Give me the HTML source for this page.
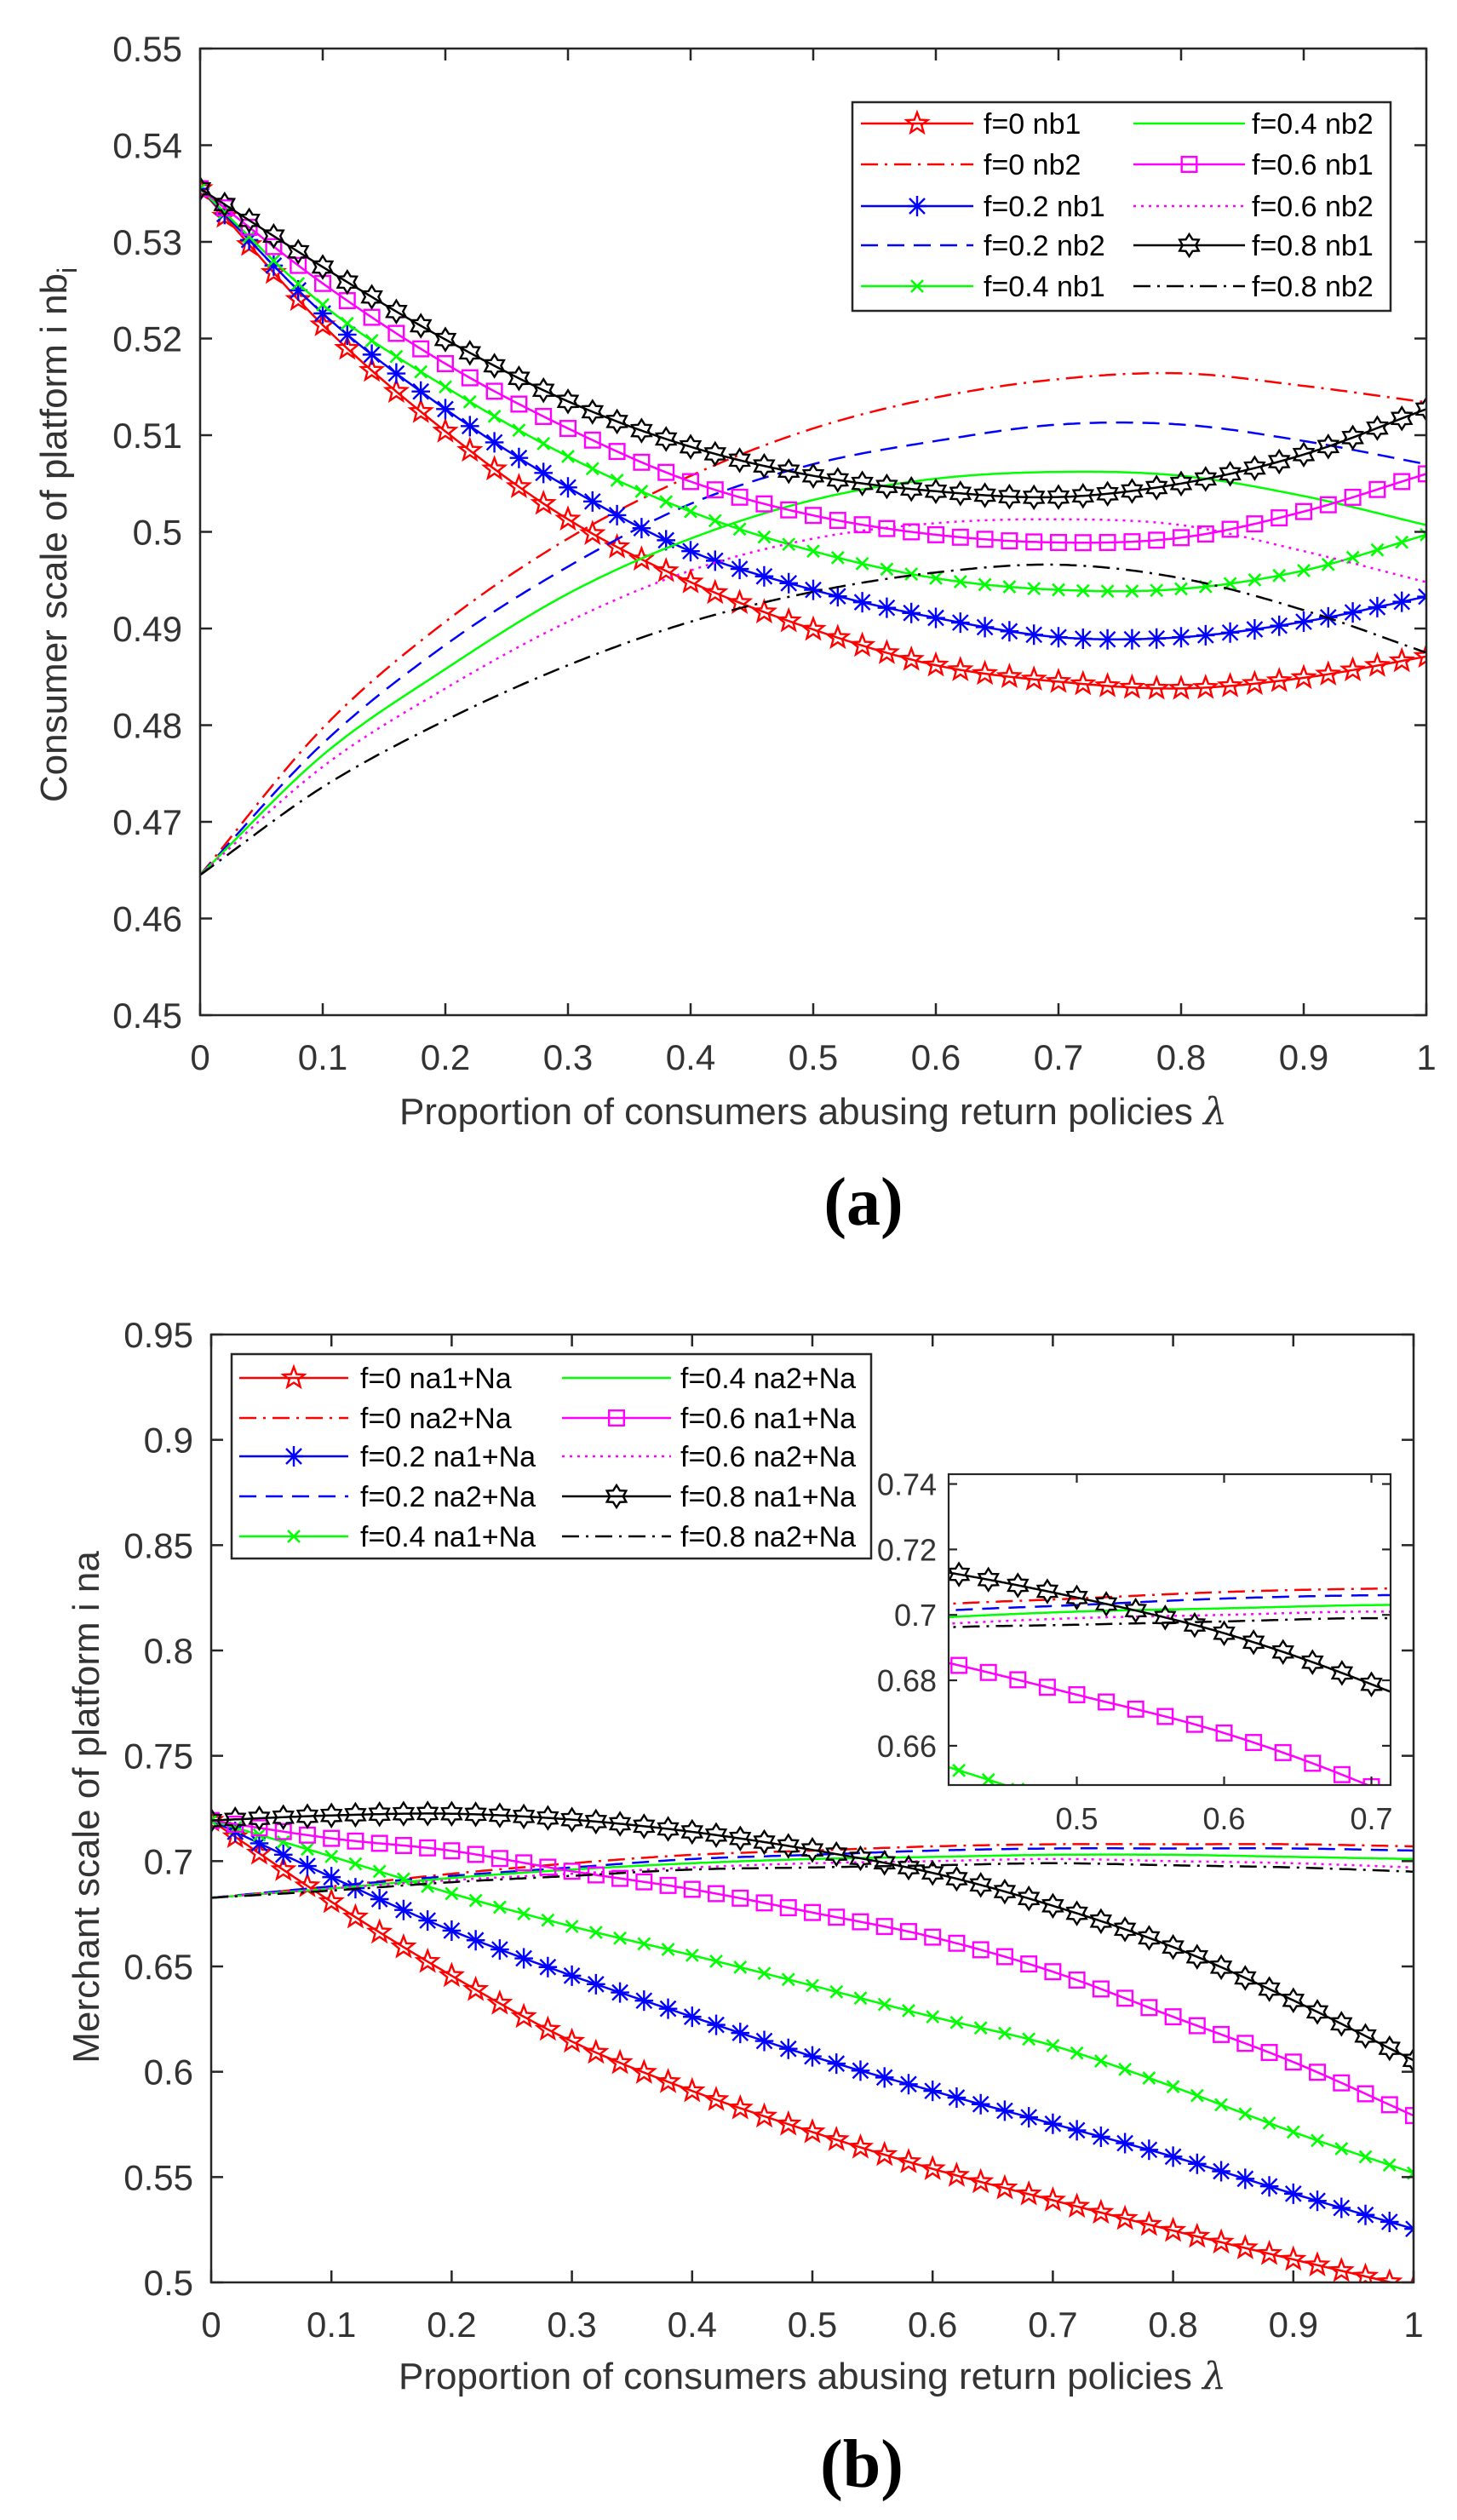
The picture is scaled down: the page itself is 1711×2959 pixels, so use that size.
<!DOCTYPE html>
<html><head><meta charset="utf-8"><title>Consumer and merchant scale charts</title>
<style>
html,body{margin:0;padding:0;background:#fff;}
svg{display:block;font-family:"Liberation Sans",Arial,sans-serif;}
</style></head>
<body>
<svg id="fig" width="1711" height="2959" viewBox="0 0 1711 2959" xmlns="http://www.w3.org/2000/svg">
<rect x="0" y="0" width="1711" height="2959" fill="#fff"/>
</svg>
<script>
// ---------- Chart (a) data ----------
const xsA = [0,0.1,0.2,0.3,0.4,0.5,0.6,0.7,0.8,0.9,1.0];
const aF0nb1   = [0.5355,0.5214,0.5104,0.5013,0.4948,0.4899,0.4862,0.4845,0.4838,0.4849,0.4871];
const aF0nb2   = [0.4645,0.4797,0.4907,0.4993,0.5058,0.5107,0.5139,0.5158,0.5164,0.5151,0.5134];
const aF02nb1  = [0.5355,0.5226,0.5127,0.5046,0.4980,0.4940,0.4911,0.4891,0.4891,0.4907,0.4933];
const aF02nb2  = [0.4645,0.4781,0.4883,0.4964,0.5029,0.5070,0.5094,0.5111,0.5111,0.5094,0.5070];
const aF04nb1  = [0.5355,0.5235,0.5150,0.5078,0.5021,0.4980,0.4952,0.4940,0.4941,0.4960,0.4997];
const aF04nb2  = [0.4645,0.4769,0.4858,0.4936,0.4993,0.5033,0.5055,0.5062,0.5058,0.5037,0.5007];
const aF06nb1  = [0.5355,0.5257,0.5174,0.5107,0.5052,0.5017,0.4997,0.4989,0.4994,0.5021,0.5060];
const aF06nb2  = [0.4645,0.4757,0.4838,0.4907,0.4960,0.4993,0.5009,0.5013,0.5007,0.4980,0.4948];
const aF08nb1  = [0.5355,0.5274,0.5199,0.5135,0.5088,0.5058,0.5042,0.5036,0.5050,0.5080,0.5127];
const aF08nb2  = [0.4645,0.4736,0.4805,0.4862,0.4907,0.4938,0.4958,0.4966,0.4952,0.4919,0.4875];
const aXTicks = [0,0.1,0.2,0.3,0.4,0.5,0.6,0.7,0.8,0.9,1];
const aXTickLabels = ["0","0.1","0.2","0.3","0.4","0.5","0.6","0.7","0.8","0.9","1"];
const aYTicks = [0.45,0.46,0.47,0.48,0.49,0.5,0.51,0.52,0.53,0.54,0.55];
const aYTickLabels = ["0.45","0.46","0.47","0.48","0.49","0.5","0.51","0.52","0.53","0.54","0.55"];
const aLabels = ["f=0 nb1","f=0 nb2","f=0.2 nb1","f=0.2 nb2","f=0.4 nb1","f=0.4 nb2","f=0.6 nb1","f=0.6 nb2","f=0.8 nb1","f=0.8 nb2"];

// ---------- Chart (b) data ----------
const xsB = [0,0.1,0.2,0.3,0.4,0.5,0.6,0.7,0.8,0.9,1.0];
const bF0na1   = [0.7193,0.6807,0.6456,0.6144,0.5909,0.5714,0.5539,0.5390,0.5246,0.5109,0.4975];
const bF0na2   = [0.6826,0.6880,0.6940,0.6990,0.7030,0.7050,0.7070,0.7080,0.7080,0.7080,0.7070];
const bF02na1  = [0.7193,0.6924,0.6670,0.6456,0.6261,0.6073,0.5909,0.5753,0.5597,0.5421,0.5254];
const bF02na2  = [0.6826,0.6880,0.6930,0.6970,0.7010,0.7030,0.7050,0.7060,0.7060,0.7060,0.7050];
const bF04na1  = [0.7193,0.7022,0.6846,0.6690,0.6553,0.6409,0.6261,0.6124,0.5929,0.5714,0.5519];
const bF04na2  = [0.6826,0.6870,0.6920,0.6960,0.6990,0.7010,0.7020,0.7030,0.7030,0.7020,0.7010];
const bF06na1  = [0.7193,0.7108,0.7049,0.6952,0.6866,0.6756,0.6639,0.6475,0.6261,0.6046,0.5792];
const bF06na2  = [0.6826,0.6870,0.6910,0.6940,0.6970,0.6990,0.7000,0.7010,0.7000,0.6990,0.6970];
const bF08na1  = [0.7193,0.7217,0.7225,0.7197,0.7139,0.7053,0.6944,0.6788,0.6592,0.6339,0.6054];
const bF08na2  = [0.6826,0.6860,0.6900,0.6930,0.6960,0.6970,0.6980,0.6990,0.6980,0.6970,0.6950];
const bXTicks = [0,0.1,0.2,0.3,0.4,0.5,0.6,0.7,0.8,0.9,1];
const bXTickLabels = ["0","0.1","0.2","0.3","0.4","0.5","0.6","0.7","0.8","0.9","1"];
const bYTicks = [0.5,0.55,0.6,0.65,0.7,0.75,0.8,0.85,0.9,0.95];
const bYTickLabels = ["0.5","0.55","0.6","0.65","0.7","0.75","0.8","0.85","0.9","0.95"];
const bLabels = ["f=0 na1+Na","f=0 na2+Na","f=0.2 na1+Na","f=0.2 na2+Na","f=0.4 na1+Na","f=0.4 na2+Na","f=0.6 na1+Na","f=0.6 na2+Na","f=0.8 na1+Na","f=0.8 na2+Na"];
const insetXTicks = [0.5,0.6,0.7];
const insetXTickLabels = ["0.5","0.6","0.7"];
const insetYTicks = [0.66,0.68,0.7,0.72,0.74];
const insetYTickLabels = ["0.66","0.68","0.7","0.72","0.74"];

const NS = "http://www.w3.org/2000/svg";
const svg = document.getElementById('fig');
function el(tag, attrs, parent){
  const e = document.createElementNS(NS, tag);
  for (const k in attrs) e.setAttribute(k, attrs[k]);
  (parent||svg).appendChild(e);
  return e;
}
function curve(xs, ys, x){
  const n = xs.length;
  let i = 0;
  while (i < n-2 && x > xs[i+1]) i++;
  const x0 = xs[i], x1 = xs[i+1], h = x1-x0;
  const tan = j => {
    if (j === 0) return (ys[1]-ys[0])/(xs[1]-xs[0]);
    if (j === n-1) return (ys[n-1]-ys[n-2])/(xs[n-1]-xs[n-2]);
    return (ys[j+1]-ys[j-1])/(xs[j+1]-xs[j-1]);
  };
  const t = (x-x0)/h, t2=t*t, t3=t2*t;
  return (2*t3-3*t2+1)*ys[i] + (t3-2*t2+t)*h*tan(i) + (-2*t3+3*t2)*ys[i+1] + (t3-t2)*h*tan(i+1);
}
const STYLES = {
  red:'#ff0000', blue:'#0000ff', green:'#00ff00', magenta:'#ff00ff', black:'#000000'
};
function dashFor(ls){
  if (ls==='--') return '20,11';
  if (ls==='-.') return '20,8,3,8';
  if (ls===':') return '3,6';
  return null;
}
function drawMarker(g, type, cx, cy, color, s){
  s = s || 12;
  if (type==='p'){
    let pts=[];
    for (let k=0;k<10;k++){
      const r = k%2===0 ? s : s*0.42;
      const a = -Math.PI/2 + k*Math.PI/5;
      pts.push((cx+r*Math.cos(a)).toFixed(1)+','+(cy+r*Math.sin(a)).toFixed(1));
    }
    el('polygon',{points:pts.join(' '),fill:'none',stroke:color,'stroke-width':2.4},g);
  } else if (type==='h'){
    let pts=[];
    for (let k=0;k<12;k++){
      const r = k%2===0 ? s : s*0.6;
      const a = -Math.PI/2 + k*Math.PI/6;
      pts.push((cx+r*Math.cos(a)).toFixed(1)+','+(cy+r*Math.sin(a)).toFixed(1));
    }
    el('polygon',{points:pts.join(' '),fill:'none',stroke:color,'stroke-width':2.4},g);
  } else if (type==='s'){
    const h = s*0.8;
    el('rect',{x:cx-h,y:cy-h,width:2*h,height:2*h,fill:'none',stroke:color,'stroke-width':2.4},g);
  } else if (type==='*'){
    const d = s*0.75;
    el('path',{d:`M${cx} ${cy-s}V${cy+s}M${cx-d} ${cy-d}L${cx+d} ${cy+d}M${cx+d} ${cy-d}L${cx-d} ${cy+d}M${cx-s*0.9} ${cy}H${cx+s*0.9}`,stroke:color,'stroke-width':2.4,fill:'none'},g);
  } else if (type==='x'){
    const d = s*0.7;
    el('path',{d:`M${cx-d} ${cy-d}L${cx+d} ${cy+d}M${cx+d} ${cy-d}L${cx-d} ${cy+d}`,stroke:color,'stroke-width':2.6,fill:'none'},g);
  }
}
let clipCount = 0;
function drawSeries(plotG, sx, sy, xs, ys, color, ls, marker, xmin, xmax, markerSize, name, clipId){
  const g = el('g',{'clip-path':`url(#${clipId})`},plotG);
  
  
  let d = '';
  const N = 400;
  for (let k=0;k<=N;k++){
    const x = xmin + (xmax-xmin)*k/N;
    const y = curve(xs, ys, x);
    d += (k===0?'M':'L') + sx(x).toFixed(1) + ' ' + sy(y).toFixed(1);
  }
  const attrs = {d:d, fill:'none', stroke:color, 'stroke-width':2.5};
  const da = dashFor(ls); if (da) attrs['stroke-dasharray']=da;
  el('path',attrs,g);
  if (marker){
    for (let k=0;k<=50;k++){
      const x = k*0.02;
      if (x < xmin-1e-9 || x > xmax+1e-9) continue;
      drawMarker(g, marker, sx(x), sy(curve(xs, ys, x)), color, markerSize);
    }
  }
}
function axes(cfg){
  const {L,R,T,B,xmin,xmax,ymin,ymax} = cfg;
  const sx = x => L + (x-xmin)/(xmax-xmin)*(R-L);
  const sy = y => B - (y-ymin)/(ymax-ymin)*(B-T);
  return {sx,sy};
}
function makeChart(cfg){
  const g = el('g',{});
  
  
  const {L,R,T,B} = cfg;
  const {sx,sy} = axes(cfg);
  const clipId = 'clip'+(clipCount++);
  const cp = el('clipPath',{id:clipId},g);
  el('rect',{x:L,y:T,width:R-L,height:B-T},cp);
  cfg.series.forEach(s => drawSeries(g, sx, sy, cfg.xs, s.ys, s.color, s.ls, s.marker, 0, 1, s.ms, s.name, clipId));
  const box = el('rect',{x:L,y:T,width:R-L,height:B-T,fill:'none',stroke:'#262626','stroke-width':2.5},g);
  
  
  const tl = 14;
  cfg.xTicks.forEach((v,i) => {
    const x = sx(v);
    el('line',{x1:x,y1:B,x2:x,y2:B-tl,stroke:'#262626','stroke-width':2.5},g);
    el('line',{x1:x,y1:T,x2:x,y2:T+tl,stroke:'#262626','stroke-width':2.5},g);
    const t = el('text',{x:x,y:B+64,'text-anchor':'middle','font-size':42,fill:'#333'},g);
    t.textContent = cfg.xTickLabels[i];
    
    
  });
  cfg.yTicks.forEach((v,i) => {
    const y = sy(v);
    el('line',{x1:L,y1:y,x2:L+tl,y2:y,stroke:'#262626','stroke-width':2.5},g);
    el('line',{x1:R,y1:y,x2:R-tl,y2:y,stroke:'#262626','stroke-width':2.5},g);
    const t = el('text',{x:L-21,y:y+15,'text-anchor':'end','font-size':42,fill:'#333'},g);
    t.textContent = cfg.yTickLabels[i];
    
    
  });
  const xt = el('text',{x:(L+R)/2,y:cfg.xTitleY,'text-anchor':'middle','font-size':44,fill:'#333'},g);
  xt.textContent = 'Proportion of consumers abusing return policies ';
  const lam = el('tspan',{'font-family':'"DejaVu Serif",serif','font-style':'italic'},xt);
  lam.textContent = 'λ';
  
  
  const yt = el('text',{x:0,y:0,'text-anchor':'middle','font-size':44,fill:'#333',transform:`translate(${cfg.yTitleX},${cfg.yTitleY}) rotate(-90)`},g);
  yt.textContent = cfg.yTitle;
  if (cfg.ySub){
    const sub = el('tspan',{'font-size':32,dy:12},yt);
    sub.textContent = cfg.ySub;
  }
  
  
  const lg = el('g',{},g);
  
  
  const Lg = cfg.legend;
  el('rect',{x:Lg.x1,y:Lg.y1,width:Lg.x2-Lg.x1,height:Lg.y2-Lg.y1,fill:'#fff',stroke:'#262626','stroke-width':2.5},lg);
  cfg.series.forEach((s,i) => {
    const col = i<5?0:1, row = i%5;
    const ly = Lg.rows[row];
    const lx1 = Lg.lineX[col][0], lx2 = Lg.lineX[col][1];
    const eg = el('g',{},lg);
    
    
    const at = {x1:lx1,y1:ly,x2:lx2,y2:ly,stroke:s.color,'stroke-width':2.5};
    const da = dashFor(s.ls); if (da) at['stroke-dasharray']=da;
    el('line',at,eg);
    if (s.marker) drawMarker(eg, s.marker, (lx1+lx2)/2, ly, s.color, s.ms);
    const t = el('text',{x:Lg.textX[col],y:ly+12,'font-size':34,fill:'#000'},eg);
    t.textContent = s.label;
  });
  return {g,sx,sy};
}
function seriesList(arrs, labels, prefix){
  const colors = ['red','red','blue','blue','green','green','magenta','magenta','black','black'];
  const lss = ['-','-.','-','--','-','-','-',':','-','-.'];
  const markers = ['p',null,'*',null,'x',null,'s',null,'h',null];
  const ms = [13,0,12,0,10,0,11,0,13,0];
  return arrs.map((ys,i)=>({ys, color:STYLES[colors[i]], ls:lss[i], marker:markers[i], ms:ms[i], label:labels[i], name:prefix+'-'+labels[i].replace(/[=+. ]+/g,'-')}));
}

// ---------- Chart (a) ----------
const serA = seriesList([aF0nb1,aF0nb2,aF02nb1,aF02nb2,aF04nb1,aF04nb2,aF06nb1,aF06nb2,aF08nb1,aF08nb2], aLabels, 'series-a');
makeChart({
  name:'chart-a-consumer-scale', L:235,R:1675,T:57,B:1192,xmin:0,xmax:1,ymin:0.45,ymax:0.55,
  xs:xsA, series:serA, xTicks:aXTicks, xTickLabels:aXTickLabels, yTicks:aYTicks, yTickLabels:aYTickLabels,
  xTitleY:1320, yTitleX:78, yTitleY:628, yTitle:'Consumer scale of platform i nb', ySub:'i',
  legend:{x1:1001,y1:120,x2:1633,y2:365,rows:[145,193,242,288,336],lineX:[[1011,1143],[1331,1462]],textX:[1155,1470]}
});

// ---------- Chart (b) ----------
const serB = seriesList([bF0na1,bF0na2,bF02na1,bF02na2,bF04na1,bF04na2,bF06na1,bF06na2,bF08na1,bF08na2], bLabels, 'series-b');
makeChart({
  name:'chart-b-merchant-scale', L:248,R:1660,T:1567,B:2680,xmin:0,xmax:1,ymin:0.5,ymax:0.95,
  xs:xsB, series:serB, xTicks:bXTicks, xTickLabels:bXTickLabels, yTicks:bYTicks, yTickLabels:bYTickLabels,
  xTitleY:2805, yTitleX:116, yTitleY:2122, yTitle:'Merchant scale of platform i na', ySub:null,
  legend:{x1:272,y1:1590,x2:1023,y2:1830,rows:[1618,1665,1710,1757,1804],lineX:[[281,409],[660,788]],textX:[423,799]}
});

// ---------- Inset of chart (b) ----------
(function(){
  const cfg = {L:1114,R:1633,T:1731,B:2096,xmin:0.413,xmax:0.713,ymin:0.648,ymax:0.743};
  const {sx,sy} = axes(cfg);
  const g = el('g',{});
  
  
  el('rect',{x:cfg.L,y:cfg.T,width:cfg.R-cfg.L,height:cfg.B-cfg.T,fill:'#fff'},g);
  const clipId = 'clip'+(clipCount++);
  const cp = el('clipPath',{id:clipId},g);
  el('rect',{x:cfg.L,y:cfg.T,width:cfg.R-cfg.L,height:cfg.B-cfg.T},cp);
  serB.forEach(s => drawSeries(g, sx, sy, xsB, s.ys, s.color, s.ls, s.marker, 0.4, 0.72, s.ms, 'inset-'+s.name, clipId));
  el('rect',{x:cfg.L,y:cfg.T,width:cfg.R-cfg.L,height:cfg.B-cfg.T,fill:'none',stroke:'#262626','stroke-width':2.2},g);
  insetXTicks.forEach((v,i)=>{
    const x = sx(v);
    el('line',{x1:x,y1:cfg.B,x2:x,y2:cfg.B-10,stroke:'#262626','stroke-width':2.2},g);
    el('line',{x1:x,y1:cfg.T,x2:x,y2:cfg.T+10,stroke:'#262626','stroke-width':2.2},g);
    const t = el('text',{x:x,y:cfg.B+52,'text-anchor':'middle','font-size':36,fill:'#333'},g);
    t.textContent = insetXTickLabels[i];
    
    
  });
  insetYTicks.forEach((v,i)=>{
    const y = sy(v);
    el('line',{x1:cfg.L,y1:y,x2:cfg.L+10,y2:y,stroke:'#262626','stroke-width':2.2},g);
    el('line',{x1:cfg.R,y1:y,x2:cfg.R-10,y2:y,stroke:'#262626','stroke-width':2.2},g);
    const t = el('text',{x:cfg.L-14,y:y+13,'text-anchor':'end','font-size':36,fill:'#333'},g);
    t.textContent = insetYTickLabels[i];
    
    
  });
})();

// panel captions
const ca = el('text',{x:1014,y:1438,'text-anchor':'middle','font-size':80,'font-weight':'bold','font-family':'"Liberation Serif",serif',fill:'#000'});
ca.textContent = '(a)';


const cb = el('text',{x:1012,y:2920,'text-anchor':'middle','font-size':80,'font-weight':'bold','font-family':'"Liberation Serif",serif',fill:'#000'});
cb.textContent = '(b)';


</script>
</body></html>
